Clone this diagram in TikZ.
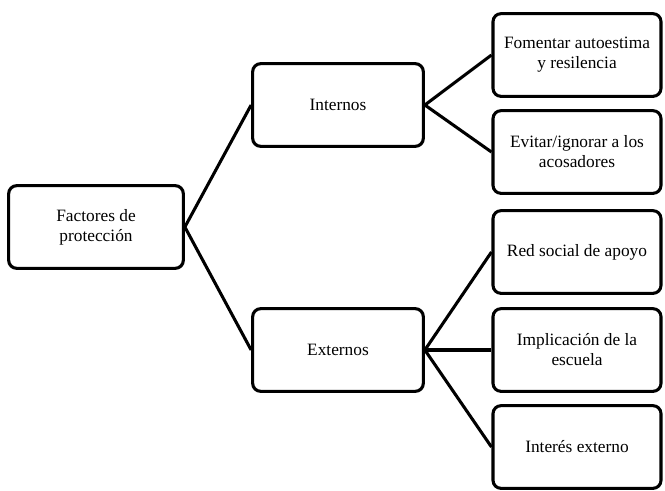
\documentclass[tikz,border=0pt]{standalone}
\usepackage{fontspec}
\setmainfont{Liberation Serif}
\tikzset{
  box/.style={draw, rounded corners=6pt, line width=2.3pt, align=center,
    minimum height=62pt, font=\fontsize{13}{15}\selectfont},
  rootbox/.style={box, minimum width=131pt},
  midbox/.style={box, minimum width=128pt},
  leafbox/.style={box, minimum width=126pt},
  link/.style={line width=2.3pt}
}
\begin{document}
\begin{tikzpicture}[x=0.75pt, y=-0.75pt]
\useasboundingbox (0,0) rectangle (665,490);
\node[rootbox] (root) at (96,227) {Factores de\\ protección};
\node[midbox] (int) at (338,105) {Internos};
\node[midbox] (ext) at (338,350) {Externos};
\node[leafbox] (autoest) at (577,55) {Fomentar autoestima\\ y resilencia};
\node[leafbox] (evitar) at (577,152) {Evitar/ignorar a los\\ acosadores};
\node[leafbox] (red) at (577,252) {Red social de apoyo};
\node[leafbox] (escuela) at (577,350) {Implicación de la\\ escuela};
\node[leafbox] (interes) at (577,447) {Interés externo};
\draw[link] (root.east) -- (int.west);
\draw[link] (root.east) -- (ext.west);
\draw[link] (int.east) -- (autoest.west);
\draw[link] (int.east) -- (evitar.west);
\draw[link] (ext.east) -- (red.west);
\draw[link] (ext.east) -- (escuela.west);
\draw[link] (ext.east) -- (interes.west);
\end{tikzpicture}
\end{document}
